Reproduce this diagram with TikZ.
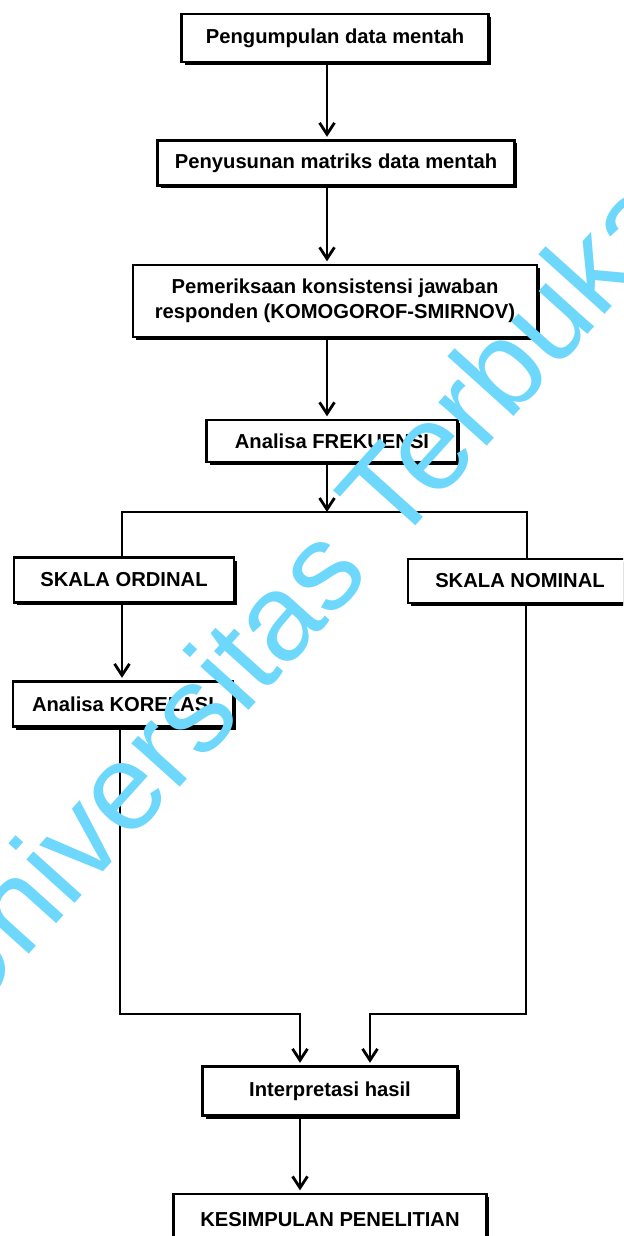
\documentclass[tikz,border=0pt]{standalone}
\usepackage{fontspec}
\setmainfont{Liberation Sans}
\usetikzlibrary{arrows.meta,shadows}
\definecolor{wmcyan}{RGB}{110,215,252}
\begin{document}
\begin{tikzpicture}[x=0.02cm,y=-0.02cm,
  box/.style={draw, line width=1.2pt, fill=white, align=center, inner sep=0pt,
    font=\fontsize{11.5}{14}\selectfont\bfseries,
    drop shadow={shadow xshift=0.06cm, shadow yshift=-0.06cm, fill=black, opacity=1}},
  link/.style={line width=1.3pt},
  arr/.style={link, -{Straight Barb[length=6.5pt,width=8.5pt,line width=1.6pt]}},
  intobox/.style={arr, shorten >=1.5pt}]
\useasboundingbox (0,0) rectangle (623,1236);
\clip (0,0) rectangle (623,1236);
\fill[white] (0,0) rectangle (623,1236);

% process boxes
\node[box, minimum width=6.14cm, minimum height=0.96cm] (b1) at (335,38) {Pengumpulan data mentah};
\node[box, minimum width=7.14cm, minimum height=0.90cm] (b2) at (336,163) {Penyusunan matriks data mentah};
\node[box, minimum width=8.08cm, minimum height=1.44cm] (b3) at (335,301) {Pemeriksaan konsistensi jawaban\\responden (KOMOGOROF-SMIRNOV)};
\node[box, minimum width=5.02cm, minimum height=0.84cm] (b4) at (332,441) {Analisa FREKUENSI};
\node[box, minimum width=4.40cm, minimum height=0.90cm] (ord) at (124,580) {SKALA ORDINAL};
\node[box, minimum width=4.48cm, minimum height=0.88cm] (nom) at (520,581) {SKALA NOMINAL};
\node[box, minimum width=4.40cm, minimum height=0.90cm] (kor) at (123,704) {Analisa KORELASI};
\node[box, minimum width=5.10cm, minimum height=0.98cm] (int) at (330,1091) {Interpretasi hasil};
\node[box, minimum width=6.26cm, minimum height=1.0cm, anchor=north] (kes) at (330,1193) {KESIMPULAN PENELITIAN};

% connector guide positions
\coordinate (xa) at (327,0);
\coordinate (xl) at (122,0);
\coordinate (xr) at (527,0);
\coordinate (split) at (327,512);
\coordinate (jl) at (120,1014);
\coordinate (jr) at (526,1014);
\coordinate (xil) at (300,0);
\coordinate (xir) at (370,0);

% main chain
\draw[intobox] (b1.south -| xa) -- (b2.north -| xa);
\draw[intobox] (b2.south -| xa) -- (b3.north -| xa);
\draw[intobox] (b3.south -| xa) -- (b4.north -| xa);
\draw[arr] (b4.south -| xa) -- (split);

% branching to the two scales
\draw[link] (ord.north -| xl) |- (split) -| (nom.north -| xr);
\draw[intobox] (ord.south -| xl) -- (kor.north -| xl);

% merging into interpretation
\draw[intobox] (kor.south -| jl) -- (jl) -| (int.north -| xil);
\draw[intobox] (nom.south -| jr) -- (jr) -| (int.north -| xir);
\draw[intobox] (int.south -| xil) -- (kes.north -| xil);

% watermark
\node[text=wmcyan, rotate=48, inner sep=0pt, font=\fontsize{70}{70}\selectfont] (wm) at (293,596) {Universitas Terbuka};
\end{tikzpicture}
\end{document}
